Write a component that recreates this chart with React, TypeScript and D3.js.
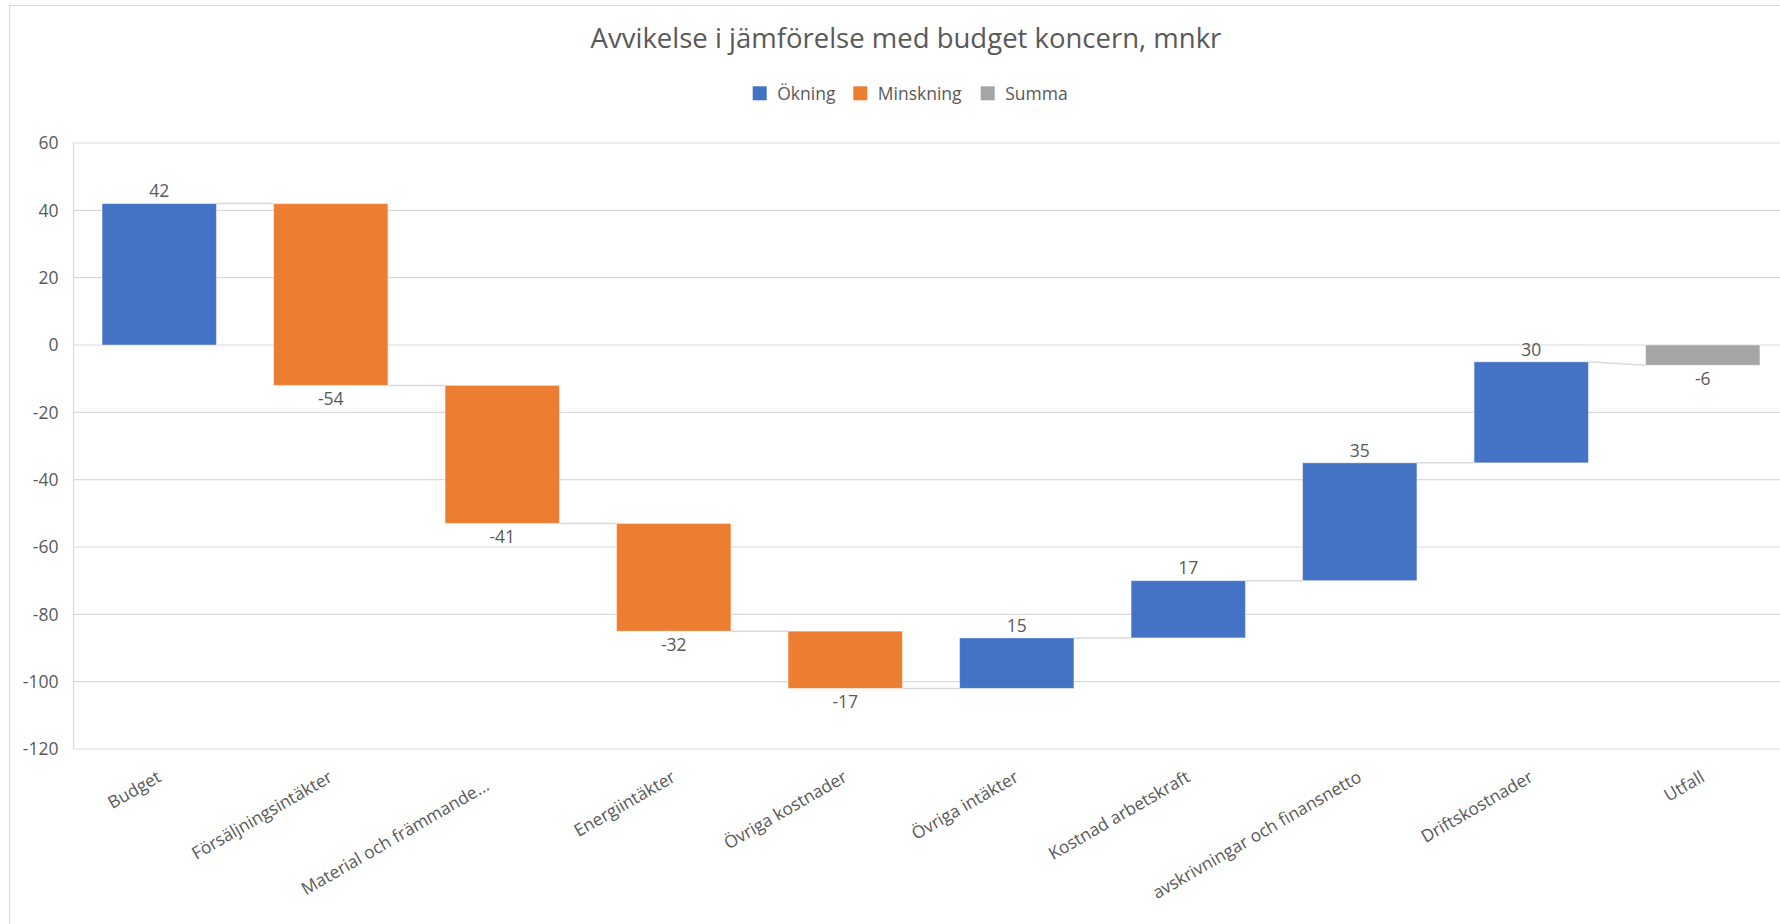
import React from "react";
import * as d3 from "d3";

const title = "Avvikelse i jämförelse med budget koncern, mnkr";
const categories = [
  "Budget",
  "Försäljningsintäkter",
  "Material och främmande...",
  "Energiintäkter",
  "Övriga kostnader",
  "Övriga intäkter",
  "Kostnad arbetskraft",
  "avskrivningar och finansnetto",
  "Driftskostnader",
  "Utfall",
];
const values = [42, -54, -41, -32, -17, 15, 17, 35, 30, -6];
const totalFlags = [false, false, false, false, false, false, false, false, false, true];
const yTicks = [-120, -100, -80, -60, -40, -20, 0, 20, 40, 60];
const legendItems = ["Ökning", "Minskning", "Summa"];

const COLORS: Record<string, string> = {
  "Ökning": "#4472C4",
  "Minskning": "#ED7D31",
  "Summa": "#A5A5A5",
};
const TEXT = "#595959";
const GRID = "#D9D9D9";
const FONT = "'Open Sans', 'Noto Sans', sans-serif";

export default function App() {
  const W = 1780;
  const H = 924;
  const step = 171.5;
  const plotLeft = 73.5;
  const plotRight = plotLeft + step * categories.length;
  const y = d3.scaleLinear().domain([-120, 60]).range([749, 143]);
  const x = d3
    .scaleBand<string>()
    .domain(categories)
    .range([plotLeft, plotRight])
    .paddingInner(1 / 3)
    .paddingOuter(1 / 6);

  // compute waterfall segments
  let running = 0;
  const bars = categories.map((c, i) => {
    const v = values[i];
    let start: number, end: number, kind: string;
    if (totalFlags[i]) {
      start = 0;
      end = v;
      kind = "Summa";
    } else {
      start = running;
      end = running + v;
      kind = v >= 0 ? "Ökning" : "Minskning";
    }
    running = totalFlags[i] ? v : end;
    return { c, v, start, end, kind };
  });

  const bw = x.bandwidth();
  const legendX = [752.7, 853.3, 980.7];

  return (
    <svg
      width={W}
      height={H}
      style={{ position: "absolute", left: 0, top: 0, overflow: "hidden", background: "#fff" }}
    >
      <rect x={0} y={0} width={W} height={H} fill="#fff" />
      <rect x={9.5} y={5.5} width={1820} height={960} fill="#fff" stroke={GRID} strokeWidth={1} />
      <text
        x={906}
        y={47.5}
        textAnchor="middle"
        fontFamily={FONT}
        fontSize={27.5}
        fill={TEXT}
      >
        {title}
      </text>

      {legendItems.map((l, i) => (
        <g key={l}>
          <rect x={legendX[i]} y={86.3} width={14} height={14} fill={COLORS[l]} />
          <text
            x={legendX[i] + 24.5}
            y={100}
            fontFamily={FONT}
            fontSize={17.5}
            fill={TEXT}
          >
            {l}
          </text>
        </g>
      ))}

      {/* gridlines */}
      {yTicks.map((t) => (
        <g key={t}>
          <line x1={plotLeft} x2={W} y1={y(t)} y2={y(t)} stroke={GRID} strokeWidth={1.2} />
          <text
            x={58.5}
            y={y(t)}
            dy="0.36em"
            textAnchor="end"
            fontFamily={FONT}
            fontSize={17.5}
            fill={TEXT}
          >
            {t}
          </text>
        </g>
      ))}
      <line x1={plotLeft} x2={plotLeft} y1={y(60)} y2={y(-120)} stroke={GRID} strokeWidth={1.2} />

      {/* connectors */}
      {bars.slice(0, -1).map((b, i) => {
        const next = bars[i + 1];
        const x1 = (x(b.c) as number) + bw;
        const x2 = x(next.c) as number;
        const yEnd = y(b.end);
        const yNext = next.kind === "Summa" ? y(next.end) : y(next.start);
        return (
          <line key={"c" + i} x1={x1} x2={x2} y1={yEnd} y2={yNext} stroke={GRID} strokeWidth={1.5} />
        );
      })}

      {/* bars */}
      {bars.map((b) => {
        const top = y(Math.max(b.start, b.end));
        const bot = y(Math.min(b.start, b.end));
        return (
          <rect
            key={b.c}
            x={x(b.c)}
            y={top}
            width={bw}
            height={bot - top}
            fill={COLORS[b.kind]}
            stroke="#fff"
            strokeOpacity={0.4}
            strokeWidth={1}
          />
        );
      })}

      {/* data labels */}
      {bars.map((b) => {
        const cx = (x(b.c) as number) + bw / 2;
        const up = b.v >= 0;
        const ly = up ? y(Math.max(b.start, b.end)) - 12.5 : y(Math.min(b.start, b.end)) + 13.5;
        return (
          <text
            key={"l" + b.c}
            x={cx}
            y={ly}
            dy="0.36em"
            textAnchor="middle"
            fontFamily={FONT}
            fontSize={17.5}
            fill={TEXT}
          >
            {b.v}
          </text>
        );
      })}

      {/* x axis labels */}
      {categories.map((c) => {
        const cx = (x(c) as number) + bw / 2 + 3;
        const ly = 780.5;
        const truncated = c.endsWith("...");
        return (
          <text
            key={"x" + c}
            x={cx}
            y={ly}
            dx={truncated ? -17 : 0}
            textAnchor="end"
            transform={`rotate(-30, ${cx}, ${ly})`}
            fontFamily={FONT}
            fontSize={17.3}
            fill={TEXT}
          >
            {c}
          </text>
        );
      })}
    </svg>
  );
}
